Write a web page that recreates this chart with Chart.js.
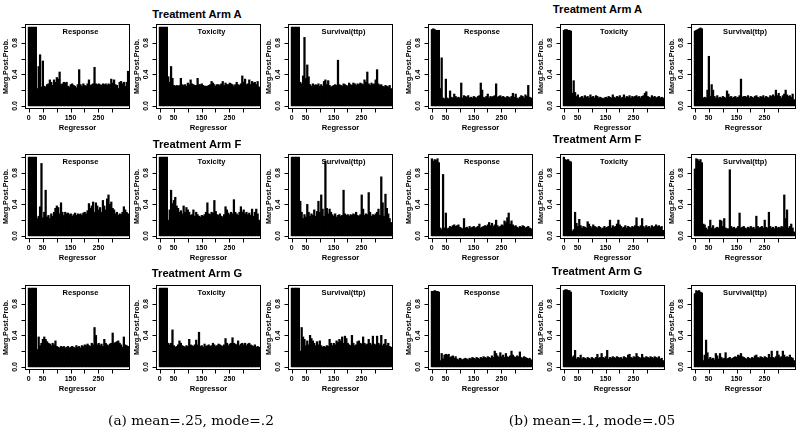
<!DOCTYPE html>
<html><head><meta charset="utf-8">
<script src="https://cdn.jsdelivr.net/npm/chart.js@4/dist/chart.umd.min.js"></script>
<style>
html,body{margin:0;padding:0;background:#fff;width:800px;height:431px;overflow:hidden;position:relative;}
canvas{position:absolute;}
.t{position:absolute;font:bold 11.2px "Liberation Sans",Arial,sans-serif;transform:translate(-50%,-50%);white-space:nowrap;color:#000;}
.cap{position:absolute;font:13.7px "DejaVu Serif",serif;transform:translate(-50%,-50%);white-space:nowrap;color:#000;}
</style></head><body>
<script>
// ---------- data ----------
const regressors = [1,6,11,16,21,26,31,36,41,46,51,56,61,66,71,76,81,86,91,96,101,106,111,116,121,126,131,136,141,146,151,156,161,166,171,176,181,186,191,196,201,206,211,216,221,226,231,236,241,246,251,256,261,266,271,276,281,286,291,296,301,306,311,316,321,326,331,336,341,346,351,356];
const armTitles = ['Treatment Arm A','Treatment Arm F','Treatment Arm G'];
const endpoints = ['Response','Toxicity','Survival(ttp)'];
const captions = ['(a) mean=.25, mode=.2','(b) mean=.1, mode=.05'];
const xTickValues = [0,50,100,150,200,250,300];
const xTickLabels = ['0','50','','150','','250',''];
const yTickValues = [0,0.2,0.4,0.6,0.8,1.0];
const yTickLabels = ['0.0','','0.4','','0.8',''];

// (a) mean=.25, mode=.2
const a_A_Response = [1,1,1,1,1,1, 0.22,0.5,0.65,0.24,0.57,0.25,0.24,0.27,0.28,0.33, 0.3,0.26,0.33,0.3,0.36,0.34,0.43,0.27,0.28,0.3, 0.29,0.3,0.25,0.24,0.27,0.28,0.26,0.25,0.23,0.27, 0.46,0.27,0.25,0.28,0.26,0.25,0.28,0.33,0.26,0.27, 0.28,0.49,0.28,0.27,0.28,0.27,0.26,0.28,0.27,0.28, 0.26,0.28,0.27,0.34,0.29,0.33,0.27,0.26,0.22,0.3, 0.31,0.28,0.3,0.25,0.3,0.44];
const a_A_Toxicity = [1,1,1,1,1,1, 0.37,0.3,0.5,0.35,0.26,0.25,0.26,0.25,0.26,0.35, 0.27,0.26,0.27,0.25,0.29,0.27,0.33,0.28,0.27,0.26, 0.26,0.35,0.27,0.27,0.28,0.26,0.25,0.25,0.25,0.26, 0.27,0.31,0.29,0.27,0.25,0.27,0.27,0.26,0.28,0.31, 0.26,0.29,0.27,0.27,0.29,0.28,0.27,0.25,0.27,0.3, 0.27,0.26,0.28,0.38,0.3,0.34,0.27,0.28,0.33,0.27, 0.31,0.29,0.3,0.27,0.31,0.24];
const a_A_Survival = [1,1,1,1,1,1, 0.3,0.28,0.38,0.87,0.35,0.52,0.37,0.27,0.25,0.28, 0.26,0.27,0.26,0.28,0.25,0.27,0.25,0.31,0.33,0.27, 0.32,0.26,0.24,0.25,0.26,0.27,0.26,0.58,0.27,0.26, 0.25,0.28,0.27,0.26,0.25,0.29,0.27,0.26,0.29,0.28, 0.26,0.28,0.27,0.29,0.28,0.27,0.33,0.3,0.43,0.28, 0.26,0.29,0.27,0.28,0.33,0.46,0.28,0.26,0.27,0.25, 0.24,0.26,0.25,0.24,0.26,0.22];
const a_F_Response = [1,1,1,1,1,1, 0.22,0.25,0.37,0.92,0.23,0.3,0.58,0.24,0.26,0.22, 0.28,0.25,0.3,0.35,0.38,0.36,0.28,0.42,0.3,0.26, 0.3,0.28,0.29,0.27,0.28,0.25,0.27,0.29,0.26,0.28, 0.27,0.28,0.26,0.29,0.3,0.28,0.32,0.41,0.35,0.38, 0.43,0.3,0.42,0.38,0.33,0.36,0.3,0.45,0.38,0.33, 0.47,0.52,0.4,0.43,0.35,0.33,0.28,0.3,0.26,0.28, 0.27,0.3,0.37,0.33,0.3,0.28];
const a_F_Toxicity = [1,1,1,1,1,1, 0.2,0.33,0.58,0.41,0.45,0.49,0.38,0.35,0.3,0.32, 0.28,0.38,0.3,0.36,0.33,0.3,0.26,0.27,0.33,0.25, 0.3,0.27,0.25,0.24,0.26,0.25,0.27,0.3,0.42,0.28, 0.27,0.3,0.29,0.45,0.31,0.27,0.26,0.28,0.25,0.24, 0.27,0.37,0.33,0.29,0.27,0.3,0.28,0.46,0.3,0.28, 0.26,0.3,0.37,0.3,0.33,0.28,0.3,0.27,0.29,0.26, 0.34,0.25,0.3,0.34,0.28,0.2];
const a_F_Survival = [1,1,1,1,1,1, 0.44,0.3,0.22,0.27,0.24,0.4,0.3,0.25,0.28,0.26, 0.33,0.25,0.31,0.44,0.3,0.52,0.34,0.25,0.95,0.35, 0.28,0.34,0.3,0.27,0.25,0.28,0.24,0.26,0.27,0.25, 0.26,0.58,0.28,0.26,0.27,0.25,0.27,0.26,0.28,0.27, 0.3,0.26,0.25,0.27,0.52,0.34,0.26,0.28,0.27,0.55, 0.3,0.25,0.27,0.26,0.28,0.3,0.34,0.26,0.75,0.42, 0.25,0.53,0.35,0.28,0.22,0.17];
const a_G_Response = [1,1,1,1,1,1, 0.22,0.38,0.27,0.3,0.35,0.38,0.35,0.32,0.3,0.29, 0.27,0.3,0.28,0.33,0.26,0.25,0.24,0.26,0.25,0.26, 0.24,0.25,0.26,0.24,0.25,0.26,0.25,0.24,0.27,0.25, 0.26,0.24,0.27,0.26,0.28,0.27,0.29,0.27,0.26,0.3, 0.28,0.5,0.4,0.28,0.3,0.27,0.29,0.26,0.35,0.3, 0.28,0.27,0.29,0.3,0.43,0.3,0.31,0.32,0.33,0.3, 0.28,0.25,0.38,0.28,0.27,0.26];
const a_G_Toxicity = [1,1,1,1,1,1, 0.3,0.28,0.3,0.47,0.27,0.25,0.26,0.28,0.33,0.3, 0.27,0.26,0.25,0.27,0.26,0.35,0.28,0.27,0.26,0.28, 0.34,0.28,0.44,0.26,0.27,0.25,0.29,0.26,0.27,0.28, 0.26,0.27,0.3,0.28,0.26,0.27,0.29,0.28,0.27,0.26, 0.28,0.36,0.3,0.27,0.29,0.3,0.37,0.3,0.29,0.28, 0.33,0.27,0.29,0.3,0.28,0.3,0.27,0.29,0.3,0.28, 0.27,0.26,0.28,0.25,0.26,0.25];
const a_G_Survival = [1,1,1,1,1,1, 0.2,0.5,0.38,0.35,0.27,0.33,0.28,0.4,0.36,0.33, 0.3,0.27,0.32,0.28,0.33,0.27,0.25,0.26,0.25,0.27, 0.26,0.35,0.3,0.27,0.3,0.28,0.33,0.31,0.35,0.33, 0.38,0.3,0.39,0.36,0.3,0.28,0.27,0.4,0.3,0.27, 0.28,0.32,0.33,0.3,0.29,0.38,0.3,0.28,0.29,0.35, 0.3,0.28,0.39,0.29,0.28,0.39,0.3,0.28,0.4,0.27, 0.29,0.35,0.27,0.3,0.26,0.25];

// (b) mean=.1, mode=.05
const b_A_Response = [0.97,0.98,0.97,0.96,0.96,0.96, 0.22,0.61,0.1,0.09,0.34,0.1,0.09,0.19,0.11,0.1, 0.15,0.12,0.1,0.11,0.1,0.29,0.1,0.13,0.12,0.11, 0.13,0.1,0.11,0.1,0.12,0.11,0.1,0.12,0.13,0.29, 0.2,0.11,0.1,0.12,0.15,0.1,0.12,0.11,0.12,0.13, 0.28,0.11,0.12,0.13,0.11,0.12,0.11,0.1,0.12,0.11, 0.1,0.12,0.16,0.11,0.15,0.1,0.09,0.11,0.13,0.12, 0.1,0.14,0.12,0.26,0.11,0.1];
const b_A_Toxicity = [0.96,0.97,0.97,0.96,0.96,0.95, 0.16,0.32,0.17,0.12,0.14,0.1,0.11,0.12,0.1,0.13, 0.11,0.12,0.1,0.14,0.11,0.12,0.1,0.13,0.12,0.1, 0.11,0.1,0.09,0.1,0.11,0.1,0.12,0.11,0.1,0.14, 0.11,0.1,0.12,0.11,0.13,0.1,0.11,0.14,0.1,0.12, 0.11,0.13,0.1,0.12,0.11,0.12,0.13,0.11,0.12,0.1, 0.12,0.13,0.16,0.18,0.12,0.11,0.1,0.13,0.11,0.12, 0.1,0.11,0.12,0.1,0.11,0.1];
const b_A_Survival = [0.95,0.96,0.97,0.98,0.99,0.98, 0.1,0.11,0.1,0.2,0.63,0.12,0.27,0.2,0.12,0.1, 0.13,0.1,0.11,0.1,0.12,0.11,0.1,0.19,0.15,0.11, 0.12,0.1,0.11,0.12,0.1,0.11,0.13,0.34,0.11,0.12, 0.12,0.11,0.13,0.1,0.12,0.11,0.1,0.12,0.13,0.11, 0.1,0.12,0.11,0.13,0.1,0.12,0.11,0.1,0.13,0.12, 0.14,0.12,0.2,0.13,0.16,0.12,0.1,0.13,0.15,0.2, 0.14,0.12,0.13,0.11,0.15,0.08];
const b_F_Response = [0.98,0.95,0.97,0.96,0.98,0.93, 0.1,0.08,0.78,0.1,0.29,0.09,0.1,0.12,0.11,0.13, 0.14,0.12,0.13,0.14,0.11,0.1,0.09,0.22,0.1,0.11, 0.09,0.12,0.1,0.11,0.12,0.1,0.11,0.12,0.15,0.1, 0.11,0.12,0.13,0.12,0.14,0.17,0.13,0.16,0.12,0.14, 0.2,0.13,0.11,0.12,0.14,0.13,0.19,0.17,0.23,0.29, 0.15,0.19,0.14,0.12,0.13,0.11,0.1,0.12,0.11,0.13, 0.12,0.1,0.11,0.12,0.1,0.09];
const b_F_Toxicity = [1.0,0.97,0.96,0.97,0.95,0.94, 0.06,0.08,0.3,0.16,0.12,0.21,0.13,0.1,0.12,0.11, 0.1,0.18,0.15,0.12,0.1,0.14,0.12,0.11,0.1,0.12, 0.11,0.09,0.1,0.12,0.1,0.11,0.12,0.2,0.1,0.13, 0.11,0.12,0.15,0.2,0.14,0.12,0.1,0.11,0.13,0.1, 0.12,0.11,0.1,0.12,0.11,0.13,0.23,0.12,0.11,0.13, 0.22,0.12,0.1,0.13,0.11,0.12,0.1,0.13,0.11,0.12, 0.14,0.12,0.13,0.11,0.12,0.07];
const b_F_Survival = [0.85,0.98,0.97,0.95,0.97,0.93, 0.15,0.14,0.1,0.08,0.12,0.2,0.1,0.13,0.09,0.1, 0.11,0.1,0.2,0.19,0.12,0.22,0.1,0.09,0.09,0.84, 0.12,0.1,0.11,0.09,0.1,0.12,0.29,0.1,0.11,0.12, 0.1,0.09,0.11,0.1,0.12,0.1,0.11,0.09,0.25,0.12, 0.1,0.11,0.12,0.1,0.2,0.11,0.1,0.3,0.12,0.1, 0.11,0.09,0.12,0.1,0.11,0.1,0.12,0.11,0.52,0.22, 0.33,0.1,0.12,0.15,0.1,0.05];
const b_G_Response = [0.96,0.96,0.97,0.96,0.96,0.95, 0.08,0.17,0.1,0.15,0.16,0.15,0.16,0.12,0.13,0.14, 0.11,0.13,0.1,0.09,0.11,0.1,0.09,0.1,0.11,0.1, 0.09,0.11,0.1,0.12,0.11,0.1,0.12,0.11,0.1,0.12, 0.11,0.13,0.12,0.11,0.13,0.12,0.11,0.14,0.12,0.2, 0.17,0.14,0.12,0.18,0.13,0.15,0.12,0.17,0.13,0.12, 0.14,0.2,0.15,0.13,0.12,0.14,0.13,0.19,0.12,0.11, 0.13,0.12,0.11,0.1,0.11,0.09];
const b_G_Toxicity = [0.97,0.98,0.98,0.97,0.97,0.95, 0.12,0.14,0.21,0.1,0.12,0.11,0.15,0.1,0.12,0.11, 0.1,0.12,0.11,0.1,0.12,0.11,0.1,0.12,0.16,0.11, 0.12,0.17,0.12,0.11,0.13,0.21,0.1,0.12,0.11,0.13, 0.12,0.11,0.13,0.12,0.11,0.12,0.1,0.13,0.12,0.11, 0.15,0.16,0.12,0.11,0.13,0.12,0.17,0.13,0.12,0.11, 0.16,0.12,0.11,0.13,0.12,0.11,0.13,0.12,0.11,0.13, 0.12,0.11,0.13,0.1,0.11,0.08];
const b_G_Survival = [0.93,0.97,0.96,0.97,0.95,0.94, 0.08,0.15,0.34,0.18,0.1,0.12,0.1,0.11,0.09,0.17, 0.14,0.1,0.17,0.12,0.1,0.11,0.18,0.1,0.11,0.12, 0.1,0.11,0.12,0.13,0.12,0.15,0.14,0.17,0.13,0.12, 0.11,0.1,0.12,0.11,0.1,0.12,0.11,0.14,0.15,0.12, 0.11,0.13,0.12,0.11,0.13,0.12,0.11,0.16,0.12,0.2, 0.12,0.11,0.13,0.2,0.15,0.12,0.13,0.2,0.15,0.12, 0.13,0.12,0.15,0.12,0.11,0.08];

const seriesByHalf = [
  [[a_A_Response,a_A_Toxicity,a_A_Survival],[a_F_Response,a_F_Toxicity,a_F_Survival],[a_G_Response,a_G_Toxicity,a_G_Survival]],
  [[b_A_Response,b_A_Toxicity,b_A_Survival],[b_F_Response,b_F_Toxicity,b_F_Survival],[b_G_Response,b_G_Toxicity,b_G_Survival]]
];

// ---------- layout ----------
const colLeft = [[25,156,288],[428,560,691]];
const rowTop = [24,154,285];
const boxW = 105, boxH = 85;
const padL = 26, padT = 4, padR = 4, padB = 32;
const titleDx = [3, 1.5];
const armTitlePos = [[[197,14],[197,143.5],[197,272.5]],[[597.5,8.5],[597,139],[597,271]]];
const captionPos = [[191,420],[592,420]];
const FONT = '"Liberation Sans", Arial, sans-serif';

const framePlugin = {
  id: 'rframe',
  afterDatasetsDraw(chart, args, opts) {
    const {ctx, chartArea: a, scales: {x, y}} = chart;
    ctx.save();
    ctx.strokeStyle = '#000';
    ctx.lineWidth = 1;
    const L = Math.round(a.left), T = Math.round(a.top), R = Math.round(a.right), B = Math.round(a.bottom);
    ctx.strokeRect(L + 0.5, T + 0.5, R - L - 1, B - T - 1);
    ctx.beginPath();
    xTickValues.forEach(v => {
      const px = Math.round(x.getPixelForValue(v)) + 0.5;
      ctx.moveTo(px, B - 0.5); ctx.lineTo(px, B + 3.5);
    });
    yTickValues.forEach(v => {
      const py = Math.round(y.getPixelForValue(v)) + 0.5;
      ctx.moveTo(L + 0.5, py); ctx.lineTo(L - 3.5, py);
    });
    ctx.stroke();
    ctx.fillStyle = '#000';
    ctx.textAlign = 'center';
    ctx.textBaseline = 'middle';
    ctx.font = 'bold 7px ' + FONT;
    xTickValues.forEach((v, i) => {
      if (xTickLabels[i]) ctx.fillText(xTickLabels[i], x.getPixelForValue(v), B + 9);
    });
    yTickValues.forEach((v, i) => {
      if (yTickLabels[i]) {
        ctx.save();
        ctx.translate(L - 9.5, y.getPixelForValue(v));
        ctx.rotate(-Math.PI / 2);
        ctx.fillText(yTickLabels[i], 0, 0);
        ctx.restore();
      }
    });
    ctx.font = 'bold 7.6px ' + FONT;
    ctx.fillText('Regressor', (L + R) / 2, B + 18.5);
    ctx.save();
    ctx.translate(L - 18.5, (T + B) / 2);
    ctx.rotate(-Math.PI / 2);
    ctx.font = 'bold 7.2px ' + FONT;
    ctx.fillText('Marg.Post.Prob.', 0, 0);
    ctx.restore();
    ctx.font = 'bold 7.5px ' + FONT;
    ctx.fillText(opts.title, (L + R) / 2 + opts.dx, T + 8);
    ctx.restore();
  }
};

function makePanel(half, row, col) {
  const vals = seriesByHalf[half][row][col];
  const cv = document.createElement('canvas');
  const left = colLeft[half][col] - padL, top = rowTop[row] - padT;
  cv.width = boxW + padL + padR;
  cv.height = boxH + padT + padB;
  cv.style.left = left + 'px';
  cv.style.top = top + 'px';
  document.body.appendChild(cv);
  const pts = [];
  for (let i = 0; i < vals.length && i < regressors.length; i++) pts.push({x: regressors[i], y: vals[i]});
  new Chart(cv, {
    type: 'bar',
    data: {datasets: [{data: pts, backgroundColor: '#000', borderWidth: 0, barThickness: 1.6}]},
    options: {
      responsive: false, animation: false, events: [],
      layout: {padding: {left: padL, top: padT, right: padR, bottom: padB}},
      scales: {
        x: {type: 'linear', min: -13, max: 363, offset: false, display: false},
        y: {type: 'linear', min: -0.04, max: 1.04, display: false}
      },
      plugins: {legend: {display: false}, tooltip: {enabled: false},
        rframe: {title: endpoints[col], dx: titleDx[half]}}
    },
    plugins: [framePlugin]
  });
}

for (let h = 0; h < 2; h++) {
  for (let r = 0; r < 3; r++) {
    const d = document.createElement('div');
    d.className = 't';
    d.textContent = armTitles[r];
    d.style.left = armTitlePos[h][r][0] + 'px';
    d.style.top = armTitlePos[h][r][1] + 'px';
    document.body.appendChild(d);
    for (let c = 0; c < 3; c++) makePanel(h, r, c);
  }
  const cp = document.createElement('div');
  cp.className = 'cap';
  cp.textContent = captions[h];
  cp.style.left = captionPos[h][0] + 'px';
  cp.style.top = captionPos[h][1] + 'px';
  document.body.appendChild(cp);
}
</script>
</body></html>
